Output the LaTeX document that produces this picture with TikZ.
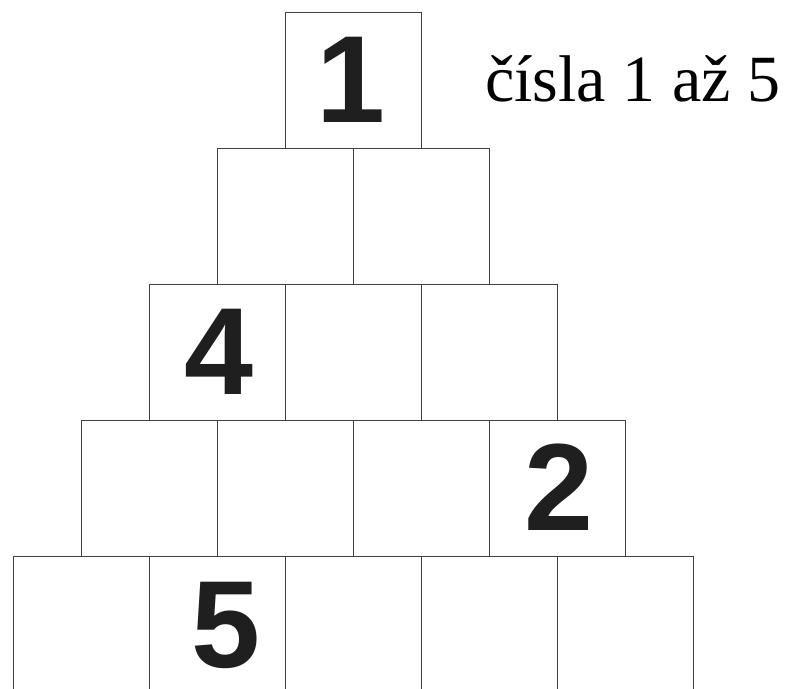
\documentclass[tikz,border=0pt]{standalone}
\usepackage{fontspec}
\setmainfont{Liberation Serif}
\newfontfamily\digitfont{Liberation Sans}
\begin{document}
\begin{tikzpicture}[x=1pt,y=-1pt,
  cell/.style={draw=black!75,line width=1.2pt,minimum width=136pt,minimum height=136pt,inner sep=0pt,anchor=north west},
  digit/.style={inner sep=0pt,anchor=base,text depth=0pt,text=black!88,font=\fontsize{124}{124}\digitfont\bfseries\selectfont},
  title/.style={inner sep=0pt,anchor=base west,font=\fontsize{66}{66}\rmfamily\selectfont}]
\useasboundingbox[fill=white] (0,0) rectangle (792,688);
\clip (0,0) rectangle (792,688);
\foreach \r in {0,...,4}{
  \foreach \c in {0,...,\r}{
    \node[cell] (b-\r-\c) at ({285-68*\r+136*\c},{11.5+136*\r}) {};
  }
}
\node[digit] (d1) at (350.5,122) {1};
\node[digit] (d4) at (219,394.3) {4};
\node[digit] (d2) at (558.5,530) {2};
\node[digit] (d5) at (226,667) {5};
\node[title] (t) at (485,101.7) {čísla 1 až 5};
\end{tikzpicture}
\end{document}
